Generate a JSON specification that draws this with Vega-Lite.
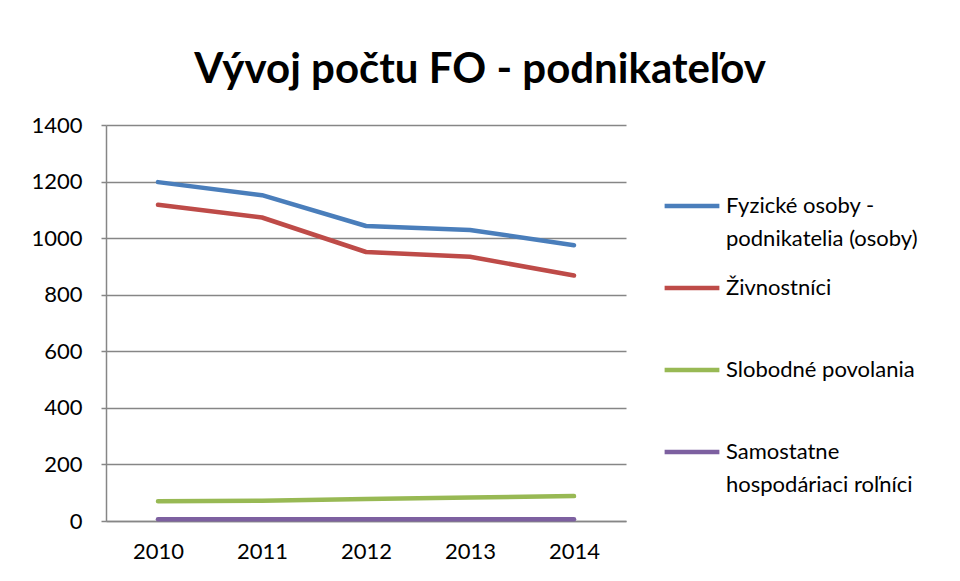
{
  "$schema": "https://vega.github.io/schema/vega-lite/v6.json",
  "width": 520,
  "height": 396,
  "autosize": {"type": "none"},
  "padding": {"left": 106, "top": 125, "right": 334, "bottom": 60},
  "background": "white",
  "title": {
    "text": "Vývoj počtu FO - podnikateľov",
    "font": "Lato",
    "fontSize": 42,
    "fontWeight": "bold",
    "color": "#000000",
    "anchor": "middle",
    "frame": "group",
    "dx": 114,
    "offset": 22
  },
  "data": {
    "values": [
      {"year": "2010", "series": "Fyzické osoby - podnikatelia (osoby)", "value": 1198},
      {"year": "2011", "series": "Fyzické osoby - podnikatelia (osoby)", "value": 1152},
      {"year": "2012", "series": "Fyzické osoby - podnikatelia (osoby)", "value": 1043},
      {"year": "2013", "series": "Fyzické osoby - podnikatelia (osoby)", "value": 1029},
      {"year": "2014", "series": "Fyzické osoby - podnikatelia (osoby)", "value": 975},
      {"year": "2010", "series": "Živnostníci", "value": 1118},
      {"year": "2011", "series": "Živnostníci", "value": 1073},
      {"year": "2012", "series": "Živnostníci", "value": 951},
      {"year": "2013", "series": "Živnostníci", "value": 934},
      {"year": "2014", "series": "Živnostníci", "value": 868},
      {"year": "2010", "series": "Slobodné povolania", "value": 70},
      {"year": "2011", "series": "Slobodné povolania", "value": 72},
      {"year": "2012", "series": "Slobodné povolania", "value": 78},
      {"year": "2013", "series": "Slobodné povolania", "value": 83},
      {"year": "2014", "series": "Slobodné povolania", "value": 88},
      {"year": "2010", "series": "Samostatne hospodáriaci roľníci", "value": 6},
      {"year": "2011", "series": "Samostatne hospodáriaci roľníci", "value": 6},
      {"year": "2012", "series": "Samostatne hospodáriaci roľníci", "value": 6},
      {"year": "2013", "series": "Samostatne hospodáriaci roľníci", "value": 6},
      {"year": "2014", "series": "Samostatne hospodáriaci roľníci", "value": 6}
    ]
  },
  "mark": {"type": "line", "strokeWidth": 4.5, "strokeCap": "round", "strokeJoin": "round"},
  "encoding": {
    "x": {
      "field": "year",
      "type": "ordinal",
      "scale": {"type": "point", "padding": 0.5},
      "axis": {
        "title": null,
        "labelAngle": 0,
        "ticks": false,
        "labelPadding": 20,
        "labelFont": "Lato",
        "labelFontSize": 22,
        "labelColor": "#000000",
        "domainColor": "#868686",
        "domainWidth": 1.5,
        "grid": false
      }
    },
    "y": {
      "field": "value",
      "type": "quantitative",
      "scale": {"domain": [0, 1400], "nice": false},
      "axis": {
        "title": null,
        "format": "d",
        "values": [0, 200, 400, 600, 800, 1000, 1200, 1400],
        "tickSize": 5,
        "tickColor": "#868686",
        "tickWidth": 1.5,
        "labelPadding": 19,
        "labelFont": "Lato",
        "labelFontSize": 22,
        "labelColor": "#000000",
        "domainColor": "#868686",
        "domainWidth": 1.5,
        "grid": true,
        "gridColor": "#868686",
        "gridWidth": 1.5
      }
    },
    "color": {
      "field": "series",
      "type": "nominal",
      "scale": {
        "domain": ["Fyzické osoby - podnikatelia (osoby)", "Živnostníci", "Slobodné povolania", "Samostatne hospodáriaci roľníci"],
        "range": ["#4A7EBB", "#BE4B48", "#98B954", "#7D60A0"]
      },
      "legend": {
        "title": null,
        "orient": "none",
        "legendX": 556,
        "legendY": 51,
        "symbolType": "stroke",
        "symbolSize": 3000,
        "symbolStrokeWidth": 4.5,
        "labelOffset": 4,
        "labelFont": "Lato",
        "labelFontSize": 22,
        "labelColor": "#000000",
        "labelLimit": 400,
        "gridAlign": "all",
        "rowPadding": 8,
        "labelExpr": "datum.value == 'Fyzické osoby - podnikatelia (osoby)' ? ['Fyzické osoby -', 'podnikatelia (osoby)'] : datum.value == 'Samostatne hospodáriaci roľníci' ? ['Samostatne', 'hospodáriaci roľníci'] : datum.label"
      }
    }
  },
  "config": {
    "view": {"stroke": null},
    "style": {"guide-label": {"lineHeight": 33}}
  }
}
